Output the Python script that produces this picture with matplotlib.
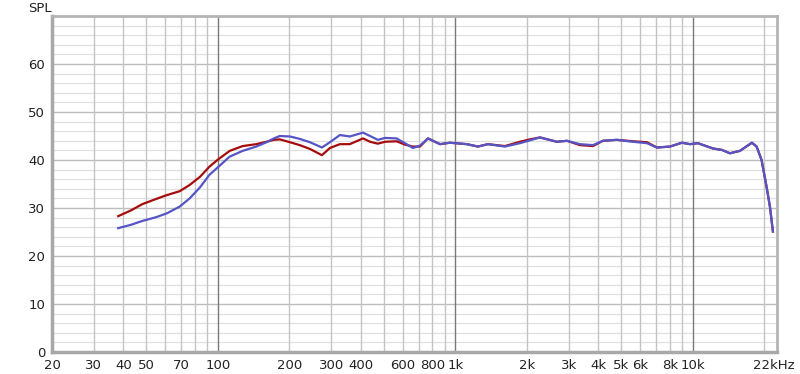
import matplotlib
matplotlib.use("Agg")
import matplotlib.pyplot as plt
from matplotlib.ticker import FixedLocator, NullLocator

# ---- data ----
freq_red = [38, 43, 48, 55, 61, 69, 76, 84, 92, 100, 112, 127, 145, 160, 172, 182, 201, 221, 244, 274,
            296, 326, 359, 408, 437, 471, 505, 565, 613, 662, 709, 766, 861, 948, 1118, 1244, 1370,
            1616, 1868, 2060, 2268, 2675, 2948, 3344, 3792, 4178, 4786, 5590, 6404, 7054, 8000, 8990,
            9716, 10496, 12140, 13250, 14310, 15770, 17720, 18550, 19460, 20430, 21100, 21720]
spl_red = [28.3, 29.5, 30.8, 31.9, 32.7, 33.5, 34.8, 36.5, 38.6, 40.1, 41.9, 42.9, 43.3, 43.8, 44.2,
           44.3, 43.7, 43.1, 42.3, 41.0, 42.5, 43.3, 43.3, 44.5, 43.8, 43.4, 43.8, 43.9, 43.2, 42.8,
           42.8, 44.5, 43.3, 43.6, 43.3, 42.8, 43.3, 42.9, 43.8, 44.3, 44.7, 43.8, 44.0, 43.1, 42.9,
           44.0, 44.2, 43.9, 43.7, 42.6, 42.8, 43.6, 43.3, 43.5, 42.4, 42.1, 41.4, 41.9, 43.6, 42.8,
           40.0, 34.4, 30.3, 25.1]

freq_blue = [38, 43, 48, 55, 61, 69, 76, 84, 92, 100, 112, 127, 145, 160, 172, 182, 201, 221, 244, 274,
             296, 326, 359, 408, 437, 471, 505, 565, 613, 662, 709, 766, 861, 948, 1118, 1244, 1370,
             1616, 1868, 2060, 2268, 2675, 2948, 3344, 3792, 4178, 4786, 5590, 6404, 7054, 8000, 8990,
             9716, 10496, 12140, 13250, 14310, 15770, 17720, 18550, 19460, 20430, 21100, 21720]
spl_blue = [25.8, 26.5, 27.3, 28.1, 28.9, 30.3, 32.0, 34.3, 36.9, 38.5, 40.7, 41.9, 42.8, 43.7, 44.5,
            45.0, 44.9, 44.4, 43.7, 42.6, 43.7, 45.2, 44.9, 45.7, 45.0, 44.2, 44.6, 44.5, 43.5, 42.5,
            43.0, 44.5, 43.3, 43.6, 43.3, 42.8, 43.3, 42.8, 43.5, 44.1, 44.7, 43.8, 44.0, 43.3, 43.1,
            44.0, 44.2, 43.8, 43.5, 42.6, 42.8, 43.6, 43.3, 43.5, 42.4, 42.1, 41.4, 41.9, 43.6, 42.8,
            40.0, 34.4, 30.3, 25.1]

xtick_vals = [20, 30, 40, 50, 70, 100, 200, 300, 400, 600, 800, 1000, 2000, 3000, 4000, 5000, 6000,
              8000, 10000, 22000]
xtick_labels = ["20", "30", "40", "50", "70", "100", "200", "300", "400", "600", "800", "1k", "2k",
                "3k", "4k", "5k", "6k", "8k", "10k", "22kHz"]
ytick_vals = [0, 10, 20, 30, 40, 50, 60]

# ---- figure ----
plt.rcParams['font.family'] = ['DejaVu Sans']
fig = plt.figure(figsize=(8.0, 3.74), dpi=100)
ax = fig.add_axes([52 / 800, 22 / 374, 725 / 800, 336 / 374])
ax.set_xscale('log')
ax.set_xlim(20, 22600)
ax.set_ylim(0, 70)

# grid
minor_grid = [30, 40, 50, 60, 70, 80, 90, 200, 300, 400, 500, 600, 700, 800, 900,
              2000, 3000, 4000, 5000, 6000, 7000, 8000, 9000, 20000]
decades = [100, 1000, 10000]
for y in range(2, 70, 2):
    if y % 10 == 0:
        ax.axhline(y, color='#bcbcbc', lw=1.0, zorder=0)
    else:
        ax.axhline(y, color='#e0e0e0', lw=0.9, zorder=0)
for f in minor_grid:
    ax.axvline(f, color='#c4c4c4', lw=1.0, zorder=0)
for f in decades:
    ax.axvline(f, color='#7a7a7a', lw=1.0, zorder=0)

ax.plot(freq_red, spl_red, color='#a60c0c', lw=1.6, zorder=3, solid_joinstyle='round')
ax.plot(freq_blue, spl_blue, color='#5555c8', lw=1.6, zorder=4, solid_joinstyle='round')

ax.xaxis.set_major_locator(FixedLocator(xtick_vals))
ax.xaxis.set_minor_locator(NullLocator())
ax.set_xticklabels(xtick_labels)
ax.set_yticks(ytick_vals)
ax.tick_params(axis='both', length=0, labelsize=9.5, colors='#222222')
ax.tick_params(axis='x', pad=5)
ax.tick_params(axis='y', pad=5)

for side in ['left', 'bottom']:
    ax.spines[side].set_color('#a8a8a8')
    ax.spines[side].set_linewidth(2.5)
for side in ['top', 'right']:
    ax.spines[side].set_color('#b4b4b4')
    ax.spines[side].set_linewidth(2.0)

fig.text(28 / 800, 1 - 8 / 374, "SPL", fontsize=9.5, va='center', ha='left', color='#222222')

fig.savefig("out.png", dpi=100)
